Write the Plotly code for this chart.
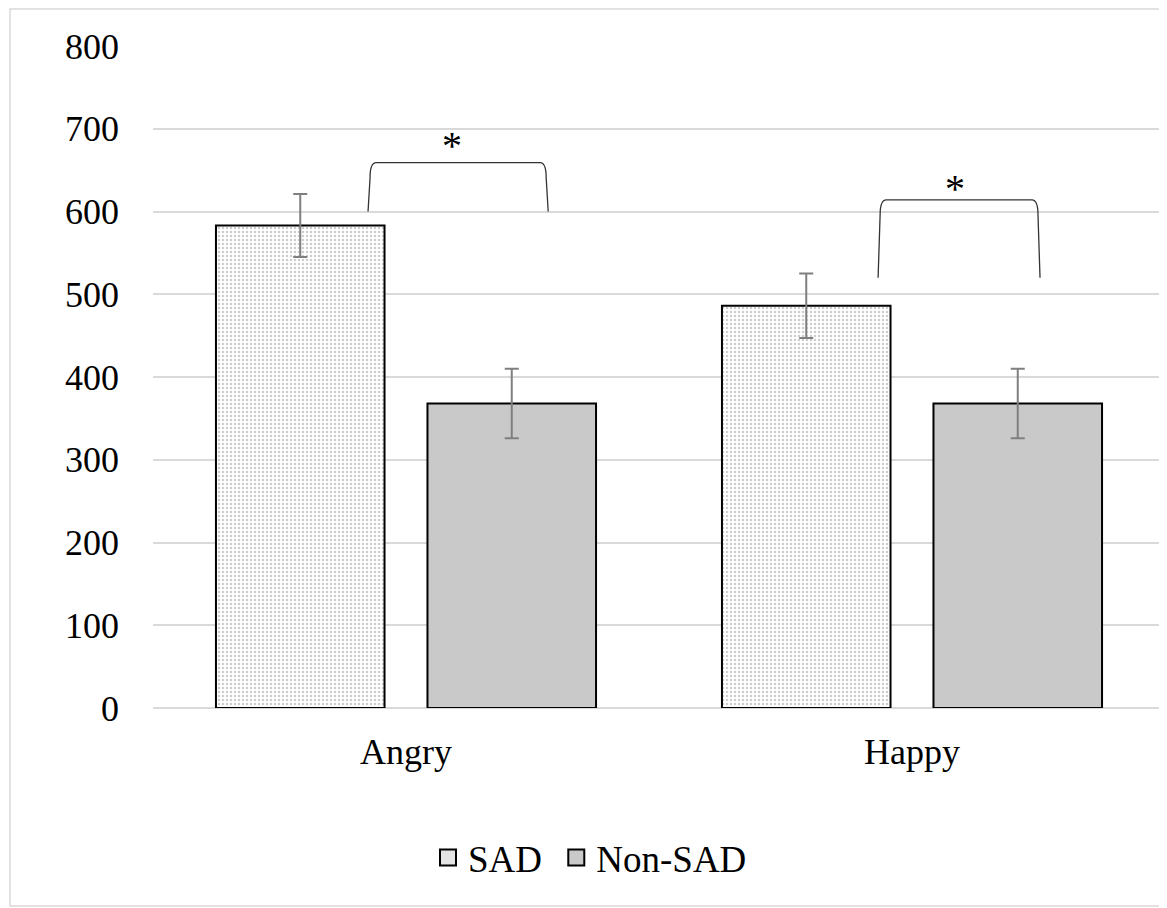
import plotly.graph_objects as go

categories = ["Angry", "Happy"]
sad_values = [583, 486]
sad_err = [38, 39]
nonsad_values = [368, 368]
nonsad_err = [42, 42]
y_ticks = [0, 100, 200, 300, 400, 500, 600, 700, 800]
series_names = ["SAD", "Non-SAD"]

FONT = "Liberation Serif"

# page body has an 8px margin; figure sized so plot area lands on the reference
W, H = 1159, 900
ML, MT, MB = 145, 38, 200
PW = 1012
PH = H - MT - MB

fig = go.Figure()
fig.add_trace(go.Bar(
    name=series_names[0], x=categories, y=sad_values, showlegend=False,
    error_y=dict(type="data", array=sad_err, color="#7f7f7f", thickness=2, width=7),
    marker=dict(color="white", line=dict(color="black", width=2),
                pattern=dict(shape=".", fgcolor="#9a9a9a", bgcolor="white",
                             size=4, solidity=0.3)),
))
fig.add_trace(go.Bar(
    name=series_names[1], x=categories, y=nonsad_values, showlegend=False,
    error_y=dict(type="data", array=nonsad_err, color="#7f7f7f", thickness=2, width=7),
    marker=dict(color="#c9c9c9", line=dict(color="black", width=2)),
))
# legend entries with larger square swatches
fig.add_trace(go.Scatter(name=series_names[0] + "\u00a0", x=[None], y=[None], mode="markers",
                         marker=dict(symbol="square", size=22, color="#e4e4e4",
                                     line=dict(color="black", width=2))))
fig.add_trace(go.Scatter(name=series_names[1], x=[None], y=[None], mode="markers",
                         marker=dict(symbol="square", size=22, color="#c9c9c9",
                                     line=dict(color="black", width=2))))

# significance brackets: (x0, x1, y_bottom, y_top, x_star, y_star)
brackets = [(-0.075, 0.281, 600, 659, 0.091, 680),
            (0.933, 1.253, 520, 614, 1.085, 628)]
for x0, x1, yb, yt, xs, ys in brackets:
    dx = 0.016
    dy = 18
    path = (f"M {x0},{yb} L {x0+0.004},{yt-dy} Q {x0+0.004},{yt} {x0+dx},{yt} "
            f"L {x1-dx},{yt} Q {x1-0.004},{yt} {x1-0.004},{yt-dy} L {x1},{yb}")
    fig.add_shape(type="path", path=path, xref="x", yref="y",
                  line=dict(color="#333333", width=1.3))
    fig.add_annotation(x=xs, y=ys, xref="x", yref="y", text="*", showarrow=False,
                       font=dict(family=FONT, size=40, color="black"))

# outer border
fig.add_shape(type="rect", xref="paper", yref="paper",
              x0=(2 - ML) / PW, x1=(1157 - ML) / PW,
              y0=(MT + PH - 898) / PH, y1=(MT + PH - 1) / PH,
              line=dict(color="#d9d9d9", width=1.5), layer="below")

fig.update_layout(
    width=W, height=H,
    margin=dict(l=ML, r=W - ML - PW, t=MT, b=MB, autoexpand=False),
    paper_bgcolor="white", plot_bgcolor="white",
    barmode="group", bargap=0.164, bargroupgap=0.203,
    font=dict(family=FONT, size=36, color="black"),
    showlegend=True,
    legend=dict(orientation="h", x=(420 - ML) / PW, xanchor="left",
                y=(MT + PH - 850) / PH, yanchor="middle",
                font=dict(family=FONT, size=37), itemwidth=30,
                traceorder="normal"),
    xaxis=dict(showgrid=False, showline=False, ticks="", ticklabelstandoff=19,
               tickfont=dict(family=FONT, size=36), range=[-0.5, 1.5]),
    yaxis=dict(range=[0, 800], tickvals=y_ticks, showgrid=True, gridcolor="#d9d9d9",
               gridwidth=1.5, zeroline=True, zerolinecolor="#d9d9d9", zerolinewidth=1.5,
               showline=False, ticks="", ticklabelstandoff=33,
               tickfont=dict(family=FONT, size=36)),
)

fig.write_html("out.html")
